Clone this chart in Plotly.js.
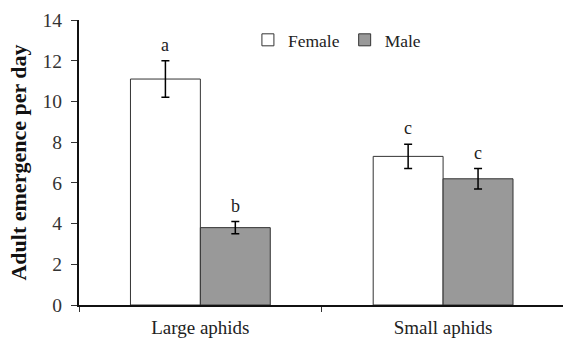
<!DOCTYPE html>
<html>
<head>
<meta charset="utf-8">
<script src="https://cdn.plot.ly/plotly-3.0.1.min.js"></script>
<style>html,body{margin:0;padding:0;overflow:hidden;background:#fff;}</style>
</head>
<body>
<div id="chart" style="width:563px;height:338px;"></div>
<script>
var categories = ["Large aphids", "Small aphids"];
var femaleValues = [11.1, 7.3];
var femaleErrors = [0.9, 0.6];
var maleValues = [3.8, 6.2];
var maleErrors = [0.3, 0.5];
var femaleLetters = ["a", "c"];
var maleLetters = ["b", "c"];
var yTicks = [0, 2, 4, 6, 8, 10, 12, 14];

var FONT = "Liberation Serif";

var female = {
  type: 'bar', name: 'Female', x: categories, y: femaleValues,
  marker: {color: '#ffffff', line: {color: '#333333', width: 1}},
  error_y: {type: 'data', array: femaleErrors, visible: true, color: '#000000', thickness: 1.5, width: 4}
};
var male = {
  type: 'bar', name: 'Male', x: categories, y: maleValues,
  marker: {color: '#999999', line: {color: '#333333', width: 1}},
  error_y: {type: 'data', array: maleErrors, visible: true, color: '#000000', thickness: 1.5, width: 4}
};

var annotations = [];
categories.forEach(function (c, i) {
  annotations.push({x: c, y: femaleValues[i] + femaleErrors[i], xref: 'x', yref: 'y', text: femaleLetters[i],
    showarrow: false, xanchor: 'center', yanchor: 'bottom', xshift: -35, yshift: 4,
    font: {family: FONT, size: 18, color: '#222'}});
  annotations.push({x: c, y: maleValues[i] + maleErrors[i], xref: 'x', yref: 'y', text: maleLetters[i],
    showarrow: false, xanchor: 'center', yanchor: 'bottom', xshift: 35, yshift: 4,
    font: {family: FONT, size: 18, color: '#222'}});
});

var layout = {
  width: 563, height: 338,
  margin: {l: 79, r: 0, t: 20, b: 33, pad: 0},
  paper_bgcolor: '#ffffff', plot_bgcolor: '#ffffff',
  barmode: 'group', bargap: 0.424, bargroupgap: 0,
  font: {family: FONT, size: 17, color: '#222'},
  showlegend: true,
  legend: {orientation: 'h', x: 0.349, y: 0.93, xanchor: 'left', yanchor: 'middle',
    font: {family: FONT, size: 17.5, color: '#222'}, bgcolor: 'rgba(0,0,0,0)', borderwidth: 0},
  xaxis: {
    type: 'category', range: [-0.5, 1.494], tickson: 'boundaries',
    showline: true, linecolor: '#111', linewidth: 2,
    ticks: 'outside', ticklen: 5, tickcolor: '#333', tickwidth: 1,
    showgrid: false, zeroline: false, fixedrange: true,
    ticklabelstandoff: 4,
    tickfont: {family: FONT, size: 19, color: '#222'}
  },
  yaxis: {
    range: [0, 14], tickvals: yTicks, ticktext: yTicks.map(String),
    showline: true, linecolor: '#111', linewidth: 2,
    ticks: 'outside', ticklen: 6, tickcolor: '#333', tickwidth: 1,
    showgrid: false, zeroline: false, fixedrange: true,
    ticklabelstandoff: 5,
    tickfont: {family: FONT, size: 19.5, color: '#333'},
    title: {text: '<b>Adult emergence per day</b>', font: {family: FONT, size: 22, color: '#111'}, standoff: 10}
  },
  annotations: annotations
};

Plotly.newPlot('chart', [female, male], layout, {displayModeBar: false, staticPlot: true});
</script>
</body>
</html>
